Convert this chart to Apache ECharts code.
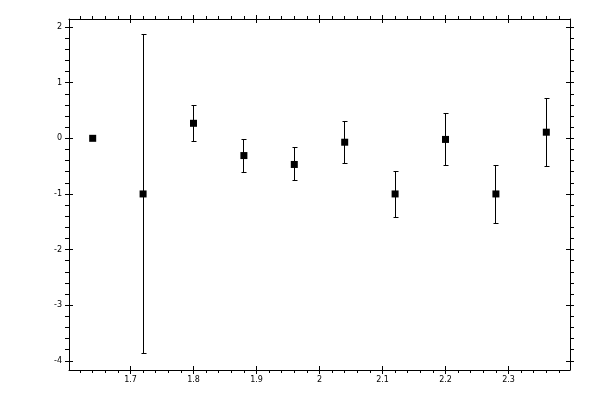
<!DOCTYPE html>
<html>
<head>
<meta charset="utf-8">
<script src="https://cdn.jsdelivr.net/npm/echarts@6/dist/echarts.min.js"></script>
<style>
html,body{margin:0;padding:0;background:#fff;}
#chart{width:600px;height:400px;}
</style>
</head>
<body>
<div id="chart"></div>
<script>
// ---- data ----
const xValues = [1.64, 1.72, 1.80, 1.88, 1.96, 2.04, 2.12, 2.20, 2.28, 2.36];
const yValues = [0, -1, 0.27, -0.31, -0.47, -0.07, -1, -0.02, -1, 0.11];
const yUpper  = [null, 1.86, 0.59, -0.03, -0.16, 0.30, -0.59, 0.45, -0.49, 0.72];
const yLower  = [null, -3.87, -0.05, -0.61, -0.76, -0.45, -1.42, -0.49, -1.53, -0.50];

// ---- tick labels ----
const xMajor = [1.7, 1.8, 1.9, 2.0, 2.1, 2.2, 2.3];
const yMajor = [-4, -3, -2, -1, 0, 1, 2];
const xMinor = [1.62,1.64,1.66,1.68,1.72,1.74,1.76,1.78,1.82,1.84,1.86,1.88,1.92,1.94,1.96,1.98,
                2.02,2.04,2.06,2.08,2.12,2.14,2.16,2.18,2.22,2.24,2.26,2.28,2.32,2.34,2.36,2.38];
const yMinor = [-3.8,-3.6,-3.4,-3.2,-2.8,-2.6,-2.4,-2.2,-1.8,-1.6,-1.4,-1.2,-0.8,-0.6,-0.4,-0.2,
                0.2,0.4,0.6,0.8,1.2,1.4,1.6,1.8];

const X_MIN = 1.6024, X_MAX = 2.3976;
const Y_MIN = -4.165, Y_MAX = 2.145;

const font = {fontFamily: 'DejaVu Sans', fontSize: 8, color: '#000'};

function axis(kind, position, opts) {
  const a = {
    type: 'value',
    position: position,
    min: kind === 'x' ? X_MIN : Y_MIN,
    max: kind === 'x' ? X_MAX : Y_MAX,
    gridIndex: 0,
    splitLine: {show: false},
    minorTick: {show: false},
    axisLine: {show: !!opts.line, onZero: false, lineStyle: {color: '#000', width: 1}},
    axisTick: {show: true, inside: !!opts.inside, length: opts.len,
               customValues: opts.ticks, lineStyle: {color: '#000', width: 1}},
    axisLabel: {show: false},
    z: 5
  };
  if (opts.labels) {
    a.axisLabel = Object.assign({show: true, margin: 6, customValues: opts.labels}, font);
  }
  return a;
}

const xAxes = [
  axis('x', 'bottom', {line: true, ticks: xMinor, len: 3, labels: xMajor}),
  axis('x', 'bottom', {ticks: xMajor, len: 4}),
  axis('x', 'bottom', {ticks: xMajor, len: 4, inside: true}),
  axis('x', 'top', {line: true, ticks: xMinor, len: 3}),
  axis('x', 'top', {ticks: xMajor, len: 4}),
  axis('x', 'top', {ticks: xMajor, len: 4, inside: true})
];
const yAxes = [
  axis('y', 'left', {line: true, ticks: yMinor, len: 4, labels: yMajor}),
  axis('y', 'left', {ticks: yMajor, len: 4}),
  axis('y', 'left', {ticks: yMajor, len: 4, inside: true}),
  axis('y', 'right', {line: true, ticks: yMinor, len: 4}),
  axis('y', 'right', {ticks: yMajor, len: 4}),
  axis('y', 'right', {ticks: yMajor, len: 4, inside: true})
];
yAxes[0].axisLabel.margin = 7;

const pointData = xValues.map((x, i) => [x, yValues[i]]);
const errData = [];
xValues.forEach((x, i) => {
  if (yUpper[i] !== null && yLower[i] !== null) errData.push([x, yUpper[i], yLower[i]]);
});

const chart = echarts.init(document.getElementById('chart'), null, {renderer: 'canvas'});
chart.setOption({
  animation: false,
  backgroundColor: '#fff',
  grid: {left: 69, right: 30, top: 19, bottom: 30, containLabel: false},
  xAxis: xAxes,
  yAxis: yAxes,
  series: [
    {
      type: 'custom',
      xAxisIndex: 0, yAxisIndex: 0,
      data: errData,
      z: 2,
      renderItem: function (params, api) {
        const x = api.value(0);
        const pHi = api.coord([x, api.value(1)]);
        const pLo = api.coord([x, api.value(2)]);
        const cx = Math.floor(pHi[0]) + 0.5;
        const yHi = Math.floor(pHi[1]) + 0.5;
        const yLo = Math.floor(pLo[1]) + 0.5;
        const w = 2;
        const st = {stroke: '#000', lineWidth: 1};
        return {
          type: 'group',
          children: [
            {type: 'line', shape: {x1: cx, y1: yHi, x2: cx, y2: yLo}, style: st},
            {type: 'line', shape: {x1: cx - w, y1: yHi, x2: cx + w + 1, y2: yHi}, style: st},
            {type: 'line', shape: {x1: cx - w, y1: yLo, x2: cx + w + 1, y2: yLo}, style: st}
          ]
        };
      }
    },
    {
      type: 'scatter',
      xAxisIndex: 0, yAxisIndex: 0,
      data: pointData,
      symbol: 'rect',
      symbolSize: 7,
      itemStyle: {color: '#000', opacity: 1},
      z: 3
    }
  ]
});
</script>
</body>
</html>
